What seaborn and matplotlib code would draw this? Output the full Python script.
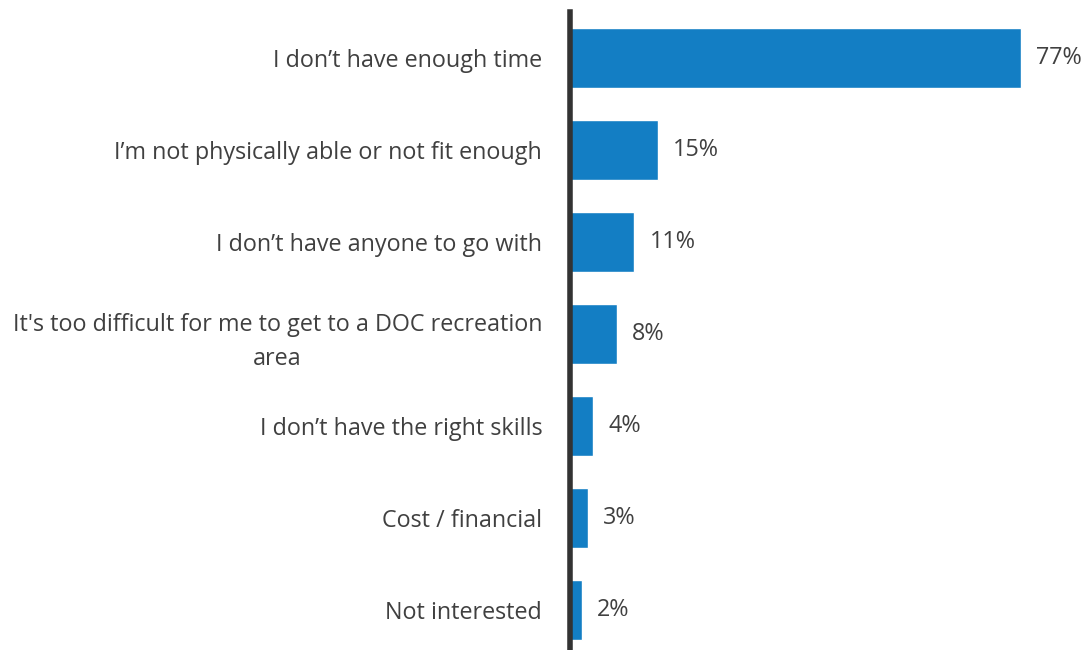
import matplotlib
matplotlib.use("Agg")
import matplotlib.pyplot as plt
import seaborn as sns
import pandas as pd

categories = [
    "I don\u2019t have enough time",
    "I\u2019m not physically able or not fit enough",
    "I don\u2019t have anyone to go with",
    "It's too difficult for me to get to a DOC recreation\narea",
    "I don\u2019t have the right skills",
    "Cost / financial",
    "Not interested",
]
values = [77, 15, 11, 8, 4, 3, 2]
value_labels = ["77%", "15%", "11%", "8%", "4%", "3%", "2%"]

sns.set_theme(style="white")
plt.rcParams['font.family'] = ['Open Sans', 'DejaVu Sans']

df = pd.DataFrame({"reason": categories, "pct": values})

fig = plt.figure(figsize=(10.85, 6.5), dpi=100)
ax = fig.add_axes([570 / 1085, 0, 1 - 570 / 1085, 638 / 650])

sns.barplot(data=df, y="reason", x="pct", orient="h", color="#137EC4",
            width=0.66, saturation=1, ax=ax)

ax.set_xlim(0, 87.9)
ax.set_ylim(6.435, -0.5)
ax.set_xlabel("")
ax.set_ylabel("")
ax.set_xticks([])
for s in ["top", "right", "bottom"]:
    ax.spines[s].set_visible(False)
ax.spines["left"].set_color("#333333")
ax.spines["left"].set_linewidth(4)
ax.tick_params(axis="y", length=0, pad=20, labelsize=16.8, labelcolor="#404040")
for lbl in ax.get_yticklabels():
    lbl.set_multialignment("center")
    lbl.set_linespacing(1.55)

ax.bar_label(ax.containers[0], labels=value_labels, padding=11,
             fontsize=16.8, color="#404040")

fig.savefig("out.png", dpi=100)
